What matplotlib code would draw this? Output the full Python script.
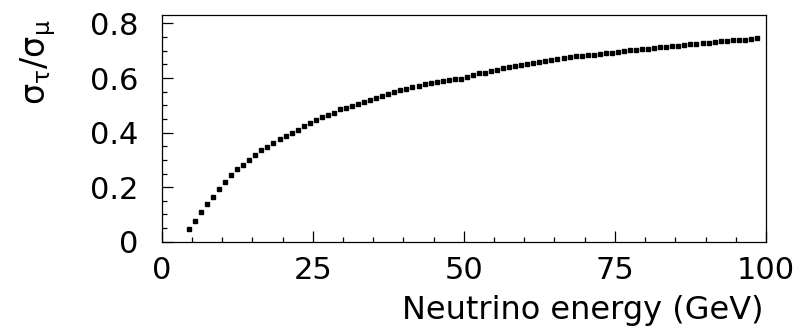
import numpy as np
import matplotlib
matplotlib.use("Agg")
import matplotlib.pyplot as plt
from matplotlib.ticker import MultipleLocator

plt.rcParams["font.family"] = ["DejaVu Sans"]
plt.rcParams["mathtext.fontset"] = "dejavusans"

# sigma_tau / sigma_mu, one point per GeV from 4.5 GeV
ratio = [
    0.046, 0.076, 0.108, 0.138, 0.164, 0.193, 0.220, 0.246, 0.265, 0.283,
    0.301, 0.319, 0.336, 0.347, 0.361, 0.375, 0.389, 0.400, 0.411, 0.425,
    0.435, 0.447, 0.456, 0.464, 0.472, 0.485, 0.491, 0.497, 0.505, 0.512,
    0.519, 0.526, 0.534, 0.541, 0.549, 0.555, 0.561, 0.568, 0.572, 0.577,
    0.580, 0.584, 0.589, 0.592, 0.595, 0.598, 0.604, 0.610, 0.617, 0.620,
    0.625, 0.631, 0.635, 0.639, 0.644, 0.649, 0.652, 0.656, 0.660, 0.663,
    0.666, 0.669, 0.673, 0.677, 0.679, 0.682, 0.684, 0.686, 0.688, 0.690,
    0.692, 0.695, 0.698, 0.701, 0.703, 0.705, 0.707, 0.709, 0.712, 0.715,
    0.717, 0.719, 0.722, 0.724, 0.726, 0.728, 0.730, 0.732, 0.734, 0.736,
    0.738, 0.740, 0.741, 0.743, 0.746,
]
energy = 4.5 + np.arange(len(ratio))

x_ticks = [0, 25, 50, 75, 100]
y_ticks = [0, 0.2, 0.4, 0.6, 0.8]
y_tick_labels = ["0", "0.2", "0.4", "0.6", "0.8"]

fig = plt.figure(figsize=(7.96, 3.34), dpi=100)
ax = fig.add_axes([0.2031, 0.2763, 0.7592, 0.6779])

ax.plot(
    energy,
    ratio,
    linestyle="none",
    marker="s",
    markersize=2.8,
    color="black"
)

ax.set_xlim(0, 100)
ax.set_ylim(0, 0.83)

ax.set_xticks(x_ticks)
ax.set_yticks(y_ticks)
ax.set_yticklabels(y_tick_labels)
ax.xaxis.set_minor_locator(MultipleLocator(5))
ax.yaxis.set_minor_locator(MultipleLocator(0.05))

ax.tick_params(
    which="both",
    direction="in",
    top=False,
    right=False,
    width=0.9,
    colors="black"
)
ax.tick_params(axis="x", which="major", length=8, pad=10, labelsize=22)
ax.tick_params(axis="y", which="major", length=8, pad=17, labelsize=22)
ax.tick_params(which="minor", length=3.6)

for spine in ax.spines.values():
    spine.set_linewidth(0.9)

fig.text(
    763 / 796,
    1 - 310 / 334,
    "Neutrino energy (GeV)",
    ha="right",
    va="center",
    fontsize=23
)

fig.text(
    38 / 796,
    1 - 62 / 334,
    r"$\mathrm{\sigma}_{\mathrm{\tau}}/\mathrm{\sigma}_{\mathrm{\mu}}$",
    rotation=90,
    ha="center",
    va="center",
    fontsize=24
)

fig.savefig("out.png", dpi=100)
plt.close(fig)
